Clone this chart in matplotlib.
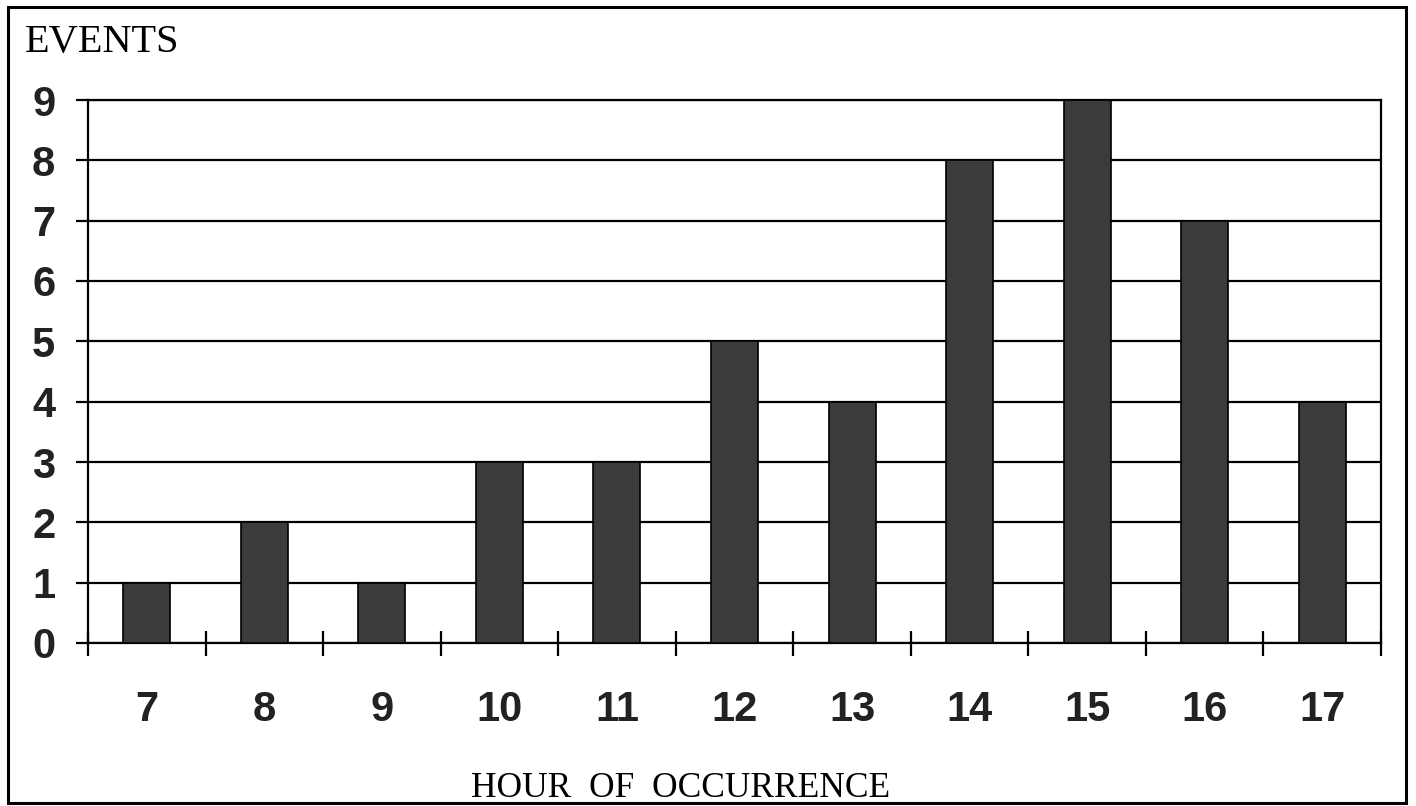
import matplotlib
matplotlib.use("Agg")
import matplotlib.pyplot as plt
from matplotlib.patches import Rectangle
import numpy as np

# data
hours = [7, 8, 9, 10, 11, 12, 13, 14, 15, 16, 17]
events = [1, 2, 1, 3, 3, 5, 4, 8, 9, 7, 4]
y_ticks = list(range(0, 10))

W, H = 1416, 806
fig = plt.figure(figsize=(W / 100, H / 100), dpi=100)
ax = fig.add_axes([88 / W, 1 - 643 / H, (1381 - 88) / W, (643 - 100) / H])

ax.bar(hours, events, width=0.4, color="#3b3b3b", edgecolor="black",
       linewidth=1.2, zorder=3)

ax.set_xlim(6.5, 17.5)
ax.set_ylim(0, 9)

# grid lines at each integer
ax.set_yticks(y_ticks)
ax.yaxis.grid(True, color="black", linewidth=1.6, zorder=1)
ax.set_yticklabels([str(v) for v in y_ticks], fontsize=30, fontweight="bold",
                   family=["Liberation Sans", "DejaVu Sans"], color="#222222")
ax.tick_params(axis="y", direction="out", length=8.6, width=1.6, pad=15)

# x: labels at the centres, tick marks on the category boundaries
ax.set_xticks(hours)
ax.set_xticklabels([str(h) for h in hours], fontsize=30, fontweight="bold",
                   family=["Liberation Sans", "DejaVu Sans"], color="#222222")
ax.tick_params(axis="x", which="major", length=0, pad=34)
ax.set_xticks(np.arange(6.5, 18, 1.0), minor=True)
ax.tick_params(axis="x", which="minor", direction="inout", length=18, width=1.6)

for s in ax.spines.values():
    s.set_linewidth(1.6)
    s.set_color("black")

# outer frame
fig.patches.append(Rectangle((8 / W, 1 - 803 / H), (1406 - 8) / W, (803 - 7) / H,
                             transform=fig.transFigure, fill=False,
                             edgecolor="black", linewidth=2.2))

fig.text(25 / W, 1 - 52 / H, "EVENTS", fontsize=29,
         family=["Liberation Serif", "DejaVu Serif"], va="baseline", ha="left")
fig.text(681 / W, 1 - 797 / H, "HOUR  OF  OCCURRENCE", fontsize=25.5,
         family=["Liberation Serif", "DejaVu Serif"], va="baseline", ha="center")

fig.savefig("out.png", dpi=100)
